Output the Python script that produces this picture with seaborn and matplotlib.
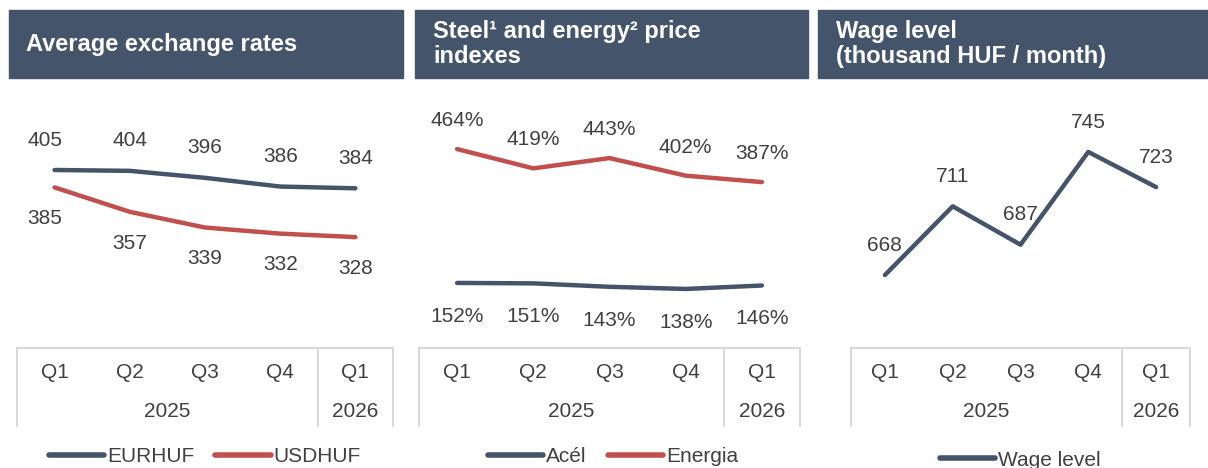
import seaborn as sns
import matplotlib.pyplot as plt
import matplotlib.patches as patches
import pandas as pd

# Data
quarters = ["Q1", "Q2", "Q3", "Q4", "Q1"]
years = ["2025", "2026"]

eurhuf = [405, 404, 396, 386, 384]
usdhuf = [385, 357, 339, 332, 328]

acel = [152, 151, 143, 138, 146]
energia = [464, 419, 443, 402, 387]

wage = [668, 711, 687, 745, 723]

titles = [
    "Average exchange rates",
    "Steel\u00b9 and energy\u00b2 price\nindexes",
    "Wage level\n(thousand HUF / month)",
]

DARK = "#44546A"
RED = "#C0504D"
GRID = "#D9D9D9"
TXT = "#404040"
FS = 15

sns.set_style("white")
plt.rcParams["font.family"] = ["Liberation Sans", "DejaVu Sans"]

W, H = 1208, 468
fig = plt.figure(figsize=(W / 100, H / 100), dpi=100)


def px_axes(x0, y0, x1, y1):
    ax = fig.add_axes([x0 / W, 1 - y1 / H, (x1 - x0) / W, (y1 - y0) / H])
    ax.set_axis_off()
    return ax


# header bars
headers = [(9, 403, 26), (415, 808, 433), (818, 1208, 836)]
for (x0, x1, tx), title in zip(headers, titles):
    fig.patches.append(patches.Rectangle((x0 / W, 1 - 78 / H), (x1 - x0) / W, 68 / H,
                                         transform=fig.transFigure, color=DARK, zorder=0))
    fig.text(tx / W, 1 - 44 / H, title, color="white", fontsize=17, fontweight="bold",
             va="center", ha="left", linespacing=1.15)

# panel geometry: table left/right in px, y-limits of line axes
panels = [
    dict(x0=17, x1=393, ylim=(210, 491)),
    dict(x0=419, x1=800, ylim=(19, 590)),
    dict(x0=851, x1=1190, ylim=(627.4, 780.6)),
]

# name, values, colour, label offset (pt, positive = up), suffix
series = [
    [("EURHUF", eurhuf, DARK, 21.5, ""), ("USDHUF", usdhuf, RED, -22.5, "")],
    [("Acél", acel, DARK, -24, "%"), ("Energia", energia, RED, 20.5, "%")],
    [("Wage level", wage, DARK, 21.5, "")],
]

legend_pos = [(205, 457), (613, 457), (1020, 460)]

for i, (p, ser) in enumerate(zip(panels, series)):
    ax = px_axes(p["x0"], 95, p["x1"], 340)
    x = list(range(len(quarters)))
    frames = []
    for name, vals, col, off, suf in ser:
        frames.append(pd.DataFrame({"x": x, "value": vals, "series": name}))
    df = pd.concat(frames)
    palette = {name: col for name, vals, col, off, suf in ser}
    sns.lineplot(data=df, x="x", y="value", hue="series", palette=palette,
                 linewidth=3.2, ax=ax, legend=False)
    ax.set_xlim(-0.5, 4.5)
    ax.set_ylim(*p["ylim"])
    ax.set_axis_off()
    for name, vals, col, off, suf in ser:
        for j, v in enumerate(vals):
            dx = -10 if (i == 0 and j == 0) else 0
            ax.annotate(f"{v}{suf}", (j, v), xytext=(dx * 0.72, off), textcoords="offset points",
                        ha="center", va="center", fontsize=FS, color=TXT)

    # category table under each chart
    tx = px_axes(p["x0"], 348, p["x1"], 426)
    tx.set_xlim(-0.5, 4.5)
    tx.set_ylim(0, 1)
    tx.plot([-0.5, 4.5], [1, 1], color=GRID, lw=1.5, clip_on=False)
    for xv in [-0.5, 3.5, 4.5]:
        tx.plot([xv, xv], [0, 1], color=GRID, lw=1.5, clip_on=False)
    for j, q in enumerate(quarters):
        tx.text(j, 0.68, q, ha="center", va="center", fontsize=FS, color=TXT)
    tx.text(1.5, 0.18, years[0], ha="center", va="center", fontsize=FS, color=TXT)
    tx.text(4, 0.18, years[1], ha="center", va="center", fontsize=FS, color=TXT)

    # legend
    handles = [plt.Line2D([], [], color=col, lw=4, solid_capstyle="round")
               for name, vals, col, off, suf in ser]
    labels = [name for name, vals, col, off, suf in ser]
    lx, ly = legend_pos[i]
    fig.legend(handles, labels, loc="center", bbox_to_anchor=(lx / W, 1 - ly / H),
               ncol=len(ser), frameon=False, fontsize=FS, handlelength=2.65,
               handletextpad=0.15, columnspacing=1.0, labelcolor=TXT)

fig.savefig("out.png", dpi=100)
